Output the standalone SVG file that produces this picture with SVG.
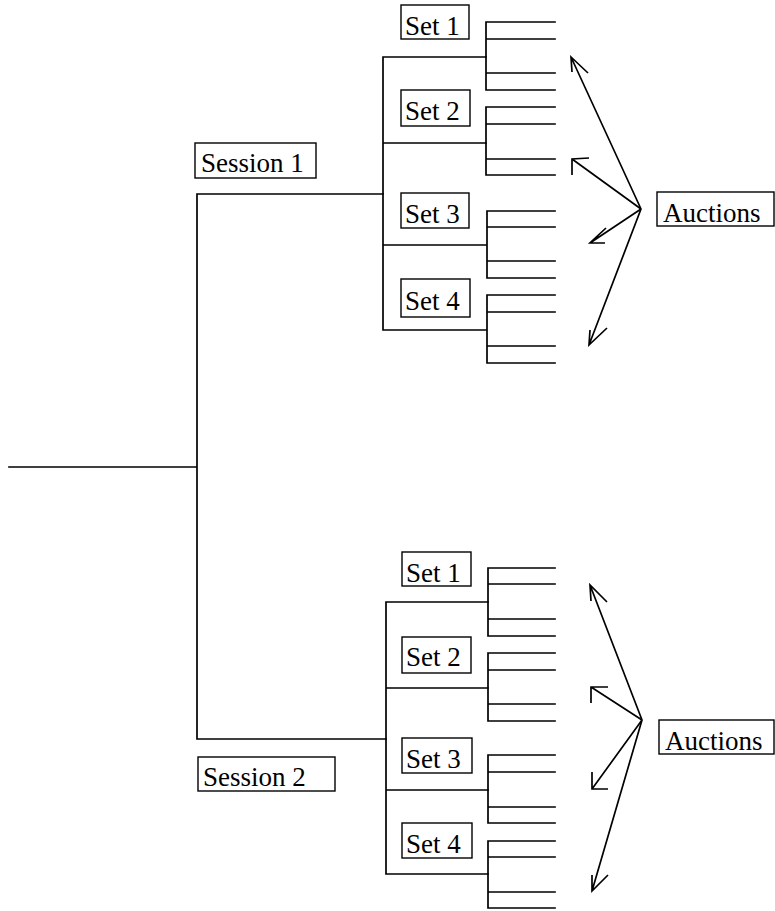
<svg xmlns="http://www.w3.org/2000/svg" width="775" height="911" viewBox="0 0 775 911">
<style>
  .box { fill: #fff; stroke: #000; stroke-width: 1.4; }
  .lbl { font-family: "Liberation Serif", "Times New Roman", serif; font-size: 27px; fill: #000; }
  .ln { fill: none; stroke: #000; stroke-width: 1.7; stroke-linecap: square; }
  .ar { fill: none; stroke: #000; stroke-width: 1.7; stroke-linejoin: miter; }
</style>
<rect width="775" height="911" fill="#fff"/>

<g id="connectors">
  <!-- root -->
  <path class="ln" d="M9 467 H197 M197 194 V739 M197 194 H383 M197 739 H386"/>
  <!-- session 1 -->
  <path class="ln" d="M383 57 V330 M383 57 H486 M383 143 H486 M383 245 H486 M383 330 H486"/>
  <path class="ln" d="M486 22 V90 M486 22 H555 M486 39 H555 M486 73 H555 M486 90 H555"/>
  <path class="ln" d="M486 107 V175 M486 107 H555 M486 124 H555 M486 159 H555 M486 175 H555"/>
  <path class="ln" d="M487 211 V278 M487 211 H555 M487 227 H555 M487 261 H555 M487 278 H555"/>
  <path class="ln" d="M487 295 V363 M487 295 H555 M487 312 H555 M487 346 H555 M487 363 H555"/>
  <!-- session 2 -->
  <path class="ln" d="M386 602 V874 M386 602 H488 M386 688 H488 M386 790 H488 M386 874 H488"/>
  <path class="ln" d="M488 568 V636 M488 568 H555 M488 584 H555 M488 619 H555 M488 636 H555"/>
  <path class="ln" d="M488 653 V721 M488 653 H555 M488 670 H555 M488 704 H555 M488 721 H555"/>
  <path class="ln" d="M488 755 V823 M488 755 H555 M488 772 H555 M488 807 H555 M488 823 H555"/>
  <path class="ln" d="M488 841 V908 M488 841 H555 M488 857 H555 M488 892 H555 M488 908 H555"/>
  <!-- auction arrows 1 -->
  <path class="ar" d="M641 209 L571 57 M572 72 L571 57 L588 73"/>
  <path class="ar" d="M641 209 L572 159 M589 158 L572 159 L572 175"/>
  <path class="ar" d="M641 209 L590 243 M606 228 L590 243 L605 243"/>
  <path class="ar" d="M641 209 L589 345 M607 328 L589 345 L590 330"/>
  <!-- auction arrows 2 -->
  <path class="ar" d="M642 720 L590 585 M591 601 L590 585 L607 602"/>
  <path class="ar" d="M642 720 L591 687 M608 687 L591 687 L591 703"/>
  <path class="ar" d="M642 720 L592 789 M608 789 L592 789 L592 772"/>
  <path class="ar" d="M642 720 L592 891 M592 875 L592 891 L608 875"/>
</g>

<g id="session1">
  <rect class="box" x="195" y="143" width="121" height="35"/>
  <text class="lbl" x="201" y="172">Session 1</text>
</g>
<g id="session2">
  <rect class="box" x="198" y="757" width="137" height="34"/>
  <text class="lbl" x="203" y="786">Session 2</text>
</g>

<g id="s1-set1">
  <rect class="box" x="401" y="5" width="68" height="34"/>
  <text class="lbl" x="405" y="35">Set 1</text>
</g>
<g id="s1-set2">
  <rect class="box" x="401" y="90" width="69" height="36"/>
  <text class="lbl" x="405" y="120">Set 2</text>
</g>
<g id="s1-set3">
  <rect class="box" x="401" y="193" width="68" height="35"/>
  <text class="lbl" x="405" y="223">Set 3</text>
</g>
<g id="s1-set4">
  <rect class="box" x="401" y="279" width="69" height="38"/>
  <text class="lbl" x="405" y="310">Set 4</text>
</g>

<g id="s2-set1">
  <rect class="box" x="402" y="552" width="69" height="34"/>
  <text class="lbl" x="406" y="582">Set 1</text>
</g>
<g id="s2-set2">
  <rect class="box" x="402" y="637" width="69" height="36"/>
  <text class="lbl" x="406" y="666">Set 2</text>
</g>
<g id="s2-set3">
  <rect class="box" x="402" y="738" width="70" height="35"/>
  <text class="lbl" x="406" y="768">Set 3</text>
</g>
<g id="s2-set4">
  <rect class="box" x="402" y="823" width="70" height="35"/>
  <text class="lbl" x="406" y="853">Set 4</text>
</g>

<g id="auctions1">
  <rect class="box" x="657" y="192" width="117" height="34"/>
  <text class="lbl" x="663" y="222">Auctions</text>
</g>
<g id="auctions2">
  <rect class="box" x="659" y="720" width="115" height="34"/>
  <text class="lbl" x="665" y="750">Auctions</text>
</g>
</svg>
